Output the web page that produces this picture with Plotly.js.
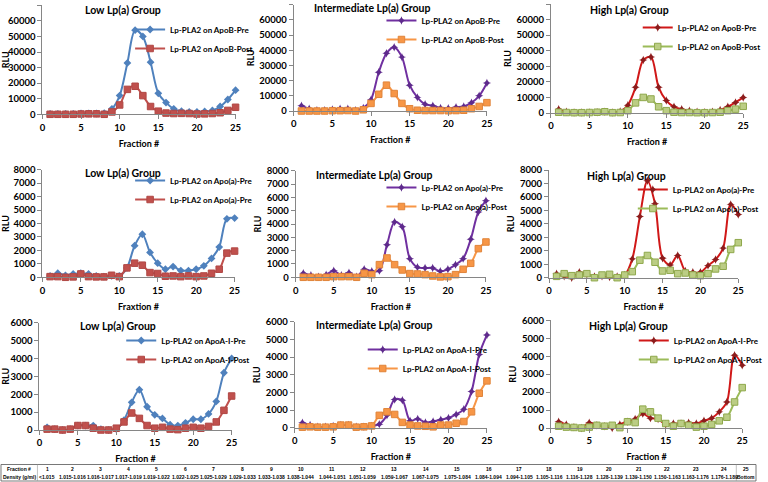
<!DOCTYPE html>
<html><head><meta charset="utf-8">
<script src="https://cdn.plot.ly/plotly-3.0.1.min.js"></script>
<style>html,body{margin:0;padding:0;background:#fff;overflow:hidden}</style>
</head><body><div id="chart" style="width:768px;height:482px"></div>
<script>
// ---------------- DATA ----------------
const fractions = [1,2,3,4,5,6,7,8,9,10,11,12,13,14,15,16,17,18,19,20,21,22,23,24,25];

const lowApoBPre   = [300,300,300,300,500,500,500,800,3500,12000,33000,54000,50000,33500,13500,7500,3500,2000,1500,1500,1800,2500,5000,9500,15500];
const lowApoBPost  = [0,0,0,0,200,300,300,0,1500,6000,16000,18000,12000,5000,2000,800,500,600,500,200,300,500,1000,2500,4500];
const intApoBPre   = [3500,1500,500,500,1000,1500,1500,500,2000,7500,25500,38000,42000,35500,17000,9000,4500,3500,2000,1800,2500,3000,5500,10000,18500];
const intApoBPost  = [0,0,0,0,200,200,300,0,800,5000,11000,17000,11500,5000,1500,500,300,300,300,200,300,500,1500,3000,5500];
const highApoBPre  = [2500,800,300,300,300,500,800,300,1000,5000,16500,34000,36000,16500,8000,4000,2500,1500,800,500,800,2000,4000,6800,10000];
const highApoBPost = [500,300,200,200,300,500,800,200,300,1500,6500,10000,9000,4000,1500,500,300,300,200,200,300,500,1500,2500,4300];

const lowApoaPre   = [100,300,150,250,300,250,100,50,100,100,700,2350,3200,1850,1050,600,800,500,500,600,850,1400,2250,4350,4400];
const lowApoaPost  = [50,50,0,30,250,50,30,30,150,50,700,1050,900,350,280,80,100,50,100,50,100,300,600,1800,1950];
const intApoaPre   = [300,150,50,200,500,150,350,50,600,450,500,2450,4150,3800,1400,750,700,700,450,600,950,1400,2850,4900,5750];
const intApoaPost  = [0,0,0,0,50,50,50,0,300,200,950,1450,950,550,280,250,200,100,30,50,200,600,1050,2150,2650];
const highApoaPre  = [300,100,0,400,250,100,100,50,100,200,1400,4550,7200,5500,1450,950,1650,500,400,400,900,1350,2200,5450,4700];
const highApoaPost = [100,300,150,200,300,0,200,250,0,200,450,1300,1650,1150,500,550,300,350,200,150,300,650,850,2100,2600];

const lowApoAPre   = [150,50,0,50,250,250,250,50,0,50,550,1550,2250,1300,850,650,300,250,400,600,600,900,1600,3200,4000];
const lowApoAPost  = [50,50,0,50,250,250,100,0,0,100,450,950,650,250,100,150,50,20,100,150,100,200,450,1100,1900];
const intApoAPre   = [280,150,50,50,100,150,150,50,50,100,200,700,1600,1550,400,500,300,350,450,550,750,1050,2050,4150,5250];
const intApoAPost  = [30,50,30,30,50,150,150,30,50,100,700,900,750,300,150,100,80,50,150,150,250,350,900,1950,2650];
const highApoAPre  = [350,200,50,0,300,150,100,0,200,350,500,800,550,500,200,250,250,300,250,400,550,900,1450,4050,3500];
const highApoAPost = [100,50,30,0,50,150,100,150,20,350,300,1050,900,550,250,100,250,150,50,100,200,400,600,1450,2250];

const groupTitles = ["Low Lp(a) Group","Intermediate Lp(a) Group","High Lp(a) Group"];
const seriesNames = [
  ["Lp-PLA2 on ApoB-Pre","Lp-PLA2 on ApoB-Post"],
  ["Lp-PLA2 on ApoB-Pre","Lp-PLA2 on ApoB-Post"],
  ["Lp-PLA2 on ApoB-Pre","Lp-PLA2 on ApoB-Post"],
  ["Lp-PLA2 on Apo(a)-Pre","Lp-PLA2 on Apo(a)-Pre"],
  ["Lp-PLA2 on Apo(a)-Pre","Lp-PLA2 on Apo(a)-Post"],
  ["Lp-PLA2 on Apo(a)-Pre","Lp-PLA2 on Apo(a)-Post"],
  ["Lp-PLA2 on ApoA-I-Pre","Lp-PLA2 on ApoA-I-Post"],
  ["Lp-PLA2 on ApoA-I-Pre","Lp-PLA2 on ApoA-I-Post"],
  ["Lp-PLA2 on ApoA-I-Pre","Lp-PLA2 on ApoA-I-Post"]
];
const xTitles = ["Fraction #","Fraction #","Fraction #","Fraxtion #","Fraction #","Fraction #","Fraction #","Fraction #","Fraction #"];
const yTitle = "RLU";
const yMax = [70000,70000,70000,8000,8000,8000,6000,6000,6000];
const yStep = [10000,10000,10000,1000,1000,1000,1000,1000,1000];

const tableFractionLabels = ["1","2","3","4","5","6","7","8","9","10","11","12","13","14","15","16","17","18","19","20","21","22","23","24","25"];
const tableDensityLabels = ["<1.015","1.015-1.016","1.016-1.017","1.017-1.019","1.019-1.022","1.022-1.025","1.025-1.029","1.029-1.033","1.033-1.038","1.038-1.044","1.044-1.051","1.051-1.059","1.059-1.067","1.067-1.075","1.075-1.084","1.084-1.094","1.094-1.105","1.105-1.116","1.116-1.128","1.128-1.139","1.139-1.150","1.150-1.163","1.163-1.176","1.176-1.189","Bottom"];
const tableRowHeaders = ["Fraction #","Density (g/ml)"];

const panelPre  = [lowApoBPre,intApoBPre,highApoBPre,lowApoaPre,intApoaPre,highApoaPre,lowApoAPre,intApoAPre,highApoAPre];
const panelPost = [lowApoBPost,intApoBPost,highApoBPost,lowApoaPost,intApoaPost,highApoaPost,lowApoAPost,intApoAPost,highApoAPost];

// ---------------- STYLE / LAYOUT ----------------
const W = 768, H = 482;
const FONT = "Lato, 'Open Sans', sans-serif";
const TBLFONT = "'Liberation Sans', Arial, sans-serif";
const px = v => v / W;
const py = v => 1 - v / H;

// plot-area pixel boxes [x0, x1, yTop, yBottom]
const boxes = [
  [43,239,5.3,114.3],[298,494,4.7,111],[559,754,4,113],
  [43,238,169.7,277.3],[300,493,170.7,277.3],[557,749,170,277.7],
  [40,235,322.7,430],[299,494,321.7,427.7],[559,753,320.3,428]
];
const titlePos = [[125,10],[378,8],[639,10],[125,173],[380,175],[636,176],[120,326],[380,325],[638,326]];
const legendPos = [[172,29],[427,20],[687,27],[172,180],[427,187],[682,189],[163,340],[408,349],[683,340]];

const styles = [
  {pre:{line:'#4F81BD',mk:'#4F81BD',sym:'diamond',sz:6},post:{line:'#C0504D',mk:'#C0504D',mkl:'#B04744',sym:'square',sz:6.5}},
  {pre:{line:'#7030A0',mk:'#5E2A8C',sym:'star-diamond',sz:6},post:{line:'#F79646',mk:'#F79646',mkl:'#E0843A',sym:'square',sz:6.5}},
  {pre:{line:'#D01818',mk:'#8C1C1C',sym:'star-diamond',sz:6},post:{line:'#9BBB59',mk:'#BBCD84',mkl:'#8FA84C',sym:'square',sz:6.5}}
];

const traces = [];
const layout = {
  width: W, height: H,
  margin: {l:0,r:0,t:0,b:0},
  paper_bgcolor:'#fff', plot_bgcolor:'rgba(0,0,0,0)',
  font:{family:FONT, color:'#000'},
  annotations: [], shapes: []
};

for (let i = 0; i < 9; i++) {
  const n = i + 1;
  const xa = n === 1 ? 'x' : 'x' + n;
  const ya = n === 1 ? 'y' : 'y' + n;
  const lg = n === 1 ? 'legend' : 'legend' + n;
  const st = styles[i % 3];
  const b = boxes[i];
  traces.push({
    type:'scatter', mode:'lines+markers', x: fractions, y: panelPre[i],
    xaxis: xa, yaxis: ya, legend: lg, name: seriesNames[i][0],
    line:{color:st.pre.line, width:2, shape:'spline', smoothing:0.9},
    marker:{symbol:st.pre.sym, size:st.pre.sz, color:st.pre.mk},
    cliponaxis:false
  });
  traces.push({
    type:'scatter', mode:'lines+markers', x: fractions, y: panelPost[i],
    xaxis: xa, yaxis: ya, legend: lg, name: seriesNames[i][1],
    line:{color:st.post.line, width:2, shape:'spline', smoothing:0.9},
    marker:{symbol:st.post.sym, size:st.post.sz, color:st.post.mk, line:{color:st.post.mkl, width:1}},
    cliponaxis:false
  });
  const axCommon = {
    showgrid:false, zeroline:false, showline:true, linecolor:'#868686', linewidth:1,
    ticks:'outside', ticklen:4, tickcolor:'#868686', automargin:false,
    tickfont:{family:FONT, size:9.5, color:'#000', weight:'bold'}
  };
  layout[n === 1 ? 'xaxis' : 'xaxis' + n] = Object.assign({}, axCommon, {
    domain:[px(b[0]), px(b[1])], anchor: ya, range:[0,25], tick0:0, dtick:5,
    title:{text:xTitles[i], font:{family:FONT, size:9, color:'#000', weight:'bold'}, standoff:8}
  });
  layout[n === 1 ? 'yaxis' : 'yaxis' + n] = Object.assign({}, axCommon, {
    domain:[py(b[3]), py(b[2])], anchor: xa, range:[0,yMax[i]], tick0:0, dtick:yStep[i],
    tickformat:'d',
    title:{text:yTitle, font:{family:FONT, size:9, color:'#000', weight:'bold'}, standoff:3}
  });
  layout[lg] = {
    x: px(legendPos[i][0] - 40), y: py(legendPos[i][1] - 14), xanchor:'left', yanchor:'top',
    bgcolor:'rgba(0,0,0,0)', borderwidth:0, itemwidth:30, tracegroupgap:0,
    font:{family:FONT, size:8, color:'#000', weight:'bold'}
  };
  layout.annotations.push({
    xref:'paper', yref:'paper', x:px(titlePos[i][0]), y:py(titlePos[i][1]),
    xanchor:'center', yanchor:'middle', showarrow:false,
    text: groupTitles[i % 3], font:{family:FONT, size:10.5, color:'#000', weight:'bold'}
  });
}

// ---- bottom table ----
const tblTop = 464.5, tblMid = 472.5, tblBot = 481;
const tblLeft = 1, tblRight = 767, hdrRight = 38, lastColLeft = 747;
const colX = [48,74,102,130,159,188,217,246,275,305,337,368,400,432,464,496,527,557,588,618,648,677,706,735,757];
const tblFont = {family:TBLFONT, size:5, color:'#000', weight:'bold'};
layout.shapes.push(
  {type:'rect', xref:'paper', yref:'paper', x0:px(tblLeft), x1:px(tblRight), y0:py(tblBot), y1:py(tblTop), line:{color:'#555', width:0.8}},
  {type:'line', xref:'paper', yref:'paper', x0:px(hdrRight), x1:px(hdrRight), y0:py(tblBot), y1:py(tblTop), line:{color:'#999', width:0.6}},
  {type:'line', xref:'paper', yref:'paper', x0:px(lastColLeft), x1:px(lastColLeft), y0:py(tblBot), y1:py(tblTop), line:{color:'#999', width:0.6}}
);
const rowY = [(tblTop + tblMid) / 2, (tblMid + tblBot) / 2];
tableRowHeaders.forEach((t, r) => layout.annotations.push({
  xref:'paper', yref:'paper', x:px((tblLeft + hdrRight) / 2), y:py(rowY[r]), xanchor:'center', yanchor:'middle',
  showarrow:false, text:t, font:tblFont
}));
tableFractionLabels.forEach((t, k) => layout.annotations.push({
  xref:'paper', yref:'paper', x:px(colX[k]), y:py(rowY[0]), xanchor:'center', yanchor:'middle',
  showarrow:false, text:t, font:tblFont
}));
tableDensityLabels.forEach((t, k) => layout.annotations.push({
  xref:'paper', yref:'paper', x:px(colX[k]), y:py(rowY[1]), xanchor:'center', yanchor:'middle',
  showarrow:false, text:t.replace('<','&lt;'), font:tblFont
}));

Plotly.newPlot('chart', traces, layout, {displayModeBar:false, staticPlot:true});
</script></body></html>
